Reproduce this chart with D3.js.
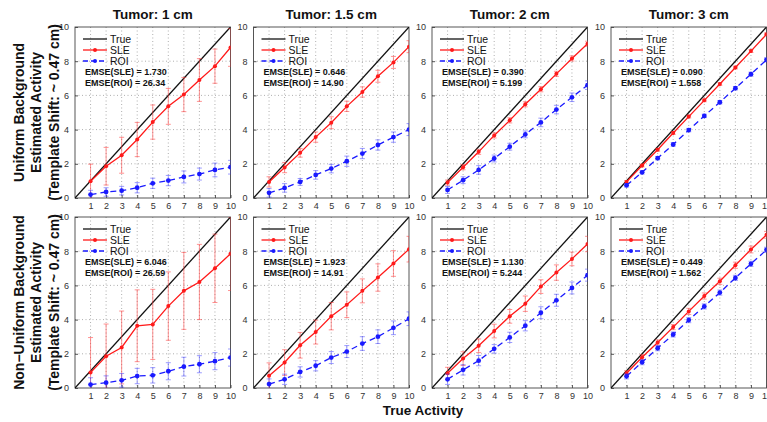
<!DOCTYPE html>
<html><head><meta charset="utf-8">
<script src="https://cdn.jsdelivr.net/npm/d3@7"></script>
<style>
html,body{margin:0;padding:0;background:#fff;}
svg{display:block;font-family:"Liberation Sans",Arial,sans-serif;}
</style></head>
<body>
<svg id="c" width="767" height="422"></svg>
<script>
// ---------- data ----------
const trueActivity = [1,2,3,4,5,6,7,8,9,10];
const xTicks = [1,2,3,4,5,6,7,8,9,10];
const yTicks = [0,2,4,6,8,10];
const tumorSizes = ["Tumor: 1 cm","Tumor: 1.5 cm","Tumor: 2 cm","Tumor: 3 cm"];
const rowLabels = [
  ["Uniform Background","Estimated Activity","(Template Shift: ~ 0.47 cm)"],
  ["Non\u2212Uniform Background","Estimated Activity","(Template Shift: ~ 0.47 cm)"]
];
const seriesNames = ["True","SLE","ROI"];

// Uniform background (row 1)
const sleUniform = [
  [0.98,1.86,2.50,3.42,4.44,5.36,6.05,6.90,7.71,8.80],
  [0.94,1.78,2.64,3.56,4.40,5.36,6.20,7.12,7.93,8.85],
  [0.90,1.80,2.70,3.66,4.54,5.48,6.36,7.26,8.16,9.02],
  [0.94,1.90,2.82,3.80,4.76,5.71,6.67,7.63,8.59,9.57]
];
const sleErrUniform = [
  [1.0,1.1,1.05,1.0,1.0,1.05,1.0,1.25,1.0,1.1],
  [0.3,0.3,0.25,0.3,0.35,0.3,0.3,0.35,0.35,0.35],
  [0.15,0.15,0.15,0.15,0.15,0.15,0.15,0.15,0.15,0.15],
  [0.08,0.08,0.08,0.08,0.08,0.08,0.08,0.08,0.08,0.08]
];
const roiUniform = [
  [0.20,0.35,0.43,0.60,0.86,1.02,1.23,1.40,1.64,1.80],
  [0.30,0.59,0.94,1.35,1.72,2.15,2.60,3.10,3.56,4.00],
  [0.47,1.04,1.64,2.31,3.00,3.72,4.42,5.17,5.89,6.60],
  [0.74,1.50,2.33,3.13,3.97,4.80,5.60,6.42,7.24,8.08]
];
const roiErrUniform = [
  [0.25,0.25,0.25,0.3,0.3,0.3,0.35,0.35,0.4,0.4],
  [0.25,0.25,0.2,0.25,0.25,0.3,0.3,0.3,0.3,0.35],
  [0.2,0.2,0.25,0.2,0.2,0.2,0.25,0.25,0.25,0.25],
  [0.1,0.1,0.1,0.1,0.1,0.1,0.1,0.1,0.12,0.12]
];
const emseSleUniform = ["1.730","0.646","0.390","0.090"];
const emseRoiUniform = ["26.34","14.90","5.199","1.558"];

// Non-uniform background (row 2)
const sleNonUniform = [
  [0.90,1.86,2.37,3.64,3.72,4.79,5.68,6.20,7.00,7.85],
  [0.72,1.49,2.50,3.27,4.20,4.87,5.68,6.46,7.28,8.12],
  [0.86,1.72,2.47,3.33,4.19,4.93,5.93,6.75,7.55,8.42],
  [0.86,1.80,2.66,3.56,4.48,5.38,6.24,7.18,8.10,8.96]
];
const sleErrNonUniform = [
  [2.05,1.88,2.13,2.1,2.05,2.0,2.25,2.2,2.0,2.15],
  [0.75,0.75,0.75,0.7,0.8,0.75,0.7,0.8,0.75,0.75],
  [0.35,0.4,0.4,0.4,0.4,0.45,0.4,0.45,0.4,0.45],
  [0.15,0.15,0.15,0.15,0.18,0.18,0.18,0.18,0.2,0.2]
];
const roiNonUniform = [
  [0.20,0.31,0.45,0.70,0.74,0.98,1.25,1.39,1.57,1.78],
  [0.23,0.51,0.94,1.30,1.78,2.13,2.60,3.00,3.52,4.05],
  [0.51,1.06,1.60,2.29,2.96,3.64,4.40,5.13,5.85,6.60],
  [0.68,1.51,2.33,3.13,3.97,4.77,5.58,6.44,7.26,8.08]
];
const roiErrNonUniform = [
  [0.4,0.4,0.4,0.45,0.45,0.5,0.55,0.5,0.5,0.5],
  [0.3,0.3,0.3,0.3,0.35,0.35,0.4,0.4,0.4,0.4],
  [0.3,0.3,0.3,0.25,0.3,0.3,0.35,0.35,0.35,0.35],
  [0.15,0.15,0.15,0.15,0.15,0.15,0.15,0.15,0.15,0.15]
];
const emseSleNonUniform = ["6.046","1.923","1.130","0.449"];
const emseRoiNonUniform = ["26.59","14.91","5.244","1.562"];

const rows = [
  {sle: sleUniform, sleErr: sleErrUniform, roi: roiUniform, roiErr: roiErrUniform, eS: emseSleUniform, eR: emseRoiUniform},
  {sle: sleNonUniform, sleErr: sleErrNonUniform, roi: roiNonUniform, roiErr: roiErrNonUniform, eS: emseSleNonUniform, eR: emseRoiNonUniform}
];

// ---------- layout ----------
const svg = d3.select("#c");
const panelLeft = [75, 253.5, 432, 611];
const panelW = 155.5;
const rowTop = [27, 217];
const panelH = 171;

const RED = "#ff1a1a", BLUE = "#1a1aff";

rows.forEach((row, ri) => {
  panelLeft.forEach((px, ci) => {
    const py = rowTop[ri];
    const g = svg.append("g").attr("transform", `translate(${px},${py})`);
    const x = d3.scaleLinear().domain([0,10]).range([0,panelW]);
    const y = d3.scaleLinear().domain([0,10]).range([panelH,0]);
    const cid = `clip${ri}${ci}`;
    g.append("clipPath").attr("id", cid).append("rect")
      .attr("x",0).attr("y",0).attr("width",panelW).attr("height",panelH);

    // grid
    g.append("g").selectAll("line").data(xTicks.filter(d=>d<10)).join("line")
      .attr("x1",d=>x(d)).attr("x2",d=>x(d)).attr("y1",0).attr("y2",panelH)
      .attr("stroke","#9a9a9a").attr("stroke-width",0.8).attr("stroke-dasharray","1,2.5");
    g.append("g").selectAll("line").data(yTicks.filter(d=>d>0&&d<10)).join("line")
      .attr("y1",d=>y(d)).attr("y2",d=>y(d)).attr("x1",0).attr("x2",panelW)
      .attr("stroke","#9a9a9a").attr("stroke-width",0.8).attr("stroke-dasharray","1,2.5");

    // axes
    const xa = g.append("g").attr("transform",`translate(0,${panelH})`)
      .call(d3.axisBottom(x).tickValues(xTicks).tickSize(-3).tickPadding(5));
    const ya = g.append("g")
      .call(d3.axisLeft(y).tickValues(yTicks).tickSize(-3).tickPadding(6));
    [xa,ya].forEach(a=>{
      a.select(".domain").remove();
      a.selectAll("line").attr("stroke","#555");
      a.selectAll("text").attr("font-size","9px").attr("fill","#333")
        .attr("font-family","'Liberation Sans',Arial,sans-serif");
    });
    g.append("rect").attr("x",0).attr("y",0).attr("width",panelW).attr("height",panelH)
      .attr("fill","none").attr("stroke","#444").attr("stroke-width",0.9);

    const plot = g.append("g").attr("clip-path",`url(#${cid})`);
    const line = d3.line().x(d=>x(d[0])).y(d=>y(d[1]));

    // True line
    plot.append("path").datum([[0,0],[10,10]]).attr("d",line)
      .attr("stroke","#111").attr("stroke-width",1.3).attr("fill","none");

    const drawSeries = (vals, errs, color, errColor, dashed, r) => {
      const pts = trueActivity.map((t,i)=>[t, vals[i], errs[i]]);
      const eg = plot.append("g").attr("stroke",errColor).attr("stroke-width",1);
      eg.selectAll("line.v").data(pts).join("line").attr("class","v")
        .attr("x1",d=>x(d[0])).attr("x2",d=>x(d[0]))
        .attr("y1",d=>y(d[1]-d[2])).attr("y2",d=>y(d[1]+d[2]));
      eg.selectAll("line.t").data(pts).join("line").attr("class","t")
        .attr("x1",d=>x(d[0])-2.5).attr("x2",d=>x(d[0])+2.5)
        .attr("y1",d=>y(d[1]+d[2])).attr("y2",d=>y(d[1]+d[2]));
      eg.selectAll("line.b").data(pts).join("line").attr("class","b")
        .attr("x1",d=>x(d[0])-2.5).attr("x2",d=>x(d[0])+2.5)
        .attr("y1",d=>y(d[1]-d[2])).attr("y2",d=>y(d[1]-d[2]));
      plot.append("path").datum(pts).attr("d",line).attr("fill","none")
        .attr("stroke",color).attr("stroke-width",1.3)
        .attr("stroke-dasharray", dashed ? "6,4" : null);
      plot.append("g").selectAll("circle").data(pts).join("circle")
        .attr("cx",d=>x(d[0])).attr("cy",d=>y(d[1])).attr("r",r).attr("fill",color);
    };
    drawSeries(row.sle[ci], row.sleErr[ci], RED, "rgba(255,60,60,0.55)", false, 2);
    drawSeries(row.roi[ci], row.roiErr[ci], BLUE, "rgba(60,60,255,0.5)", true, 2.4);

    // legend
    const lg = g.append("g").attr("transform","translate(8,12)");
    const lsty = [
      {c:"#111", dash:null, m:false},
      {c:RED, dash:null, m:true},
      {c:BLUE, dash:"5,3", m:true}
    ];
    seriesNames.forEach((nm,i)=>{
      const yy = i*11;
      lg.append("line").attr("x1",0).attr("x2",24).attr("y1",yy).attr("y2",yy)
        .attr("stroke",lsty[i].c).attr("stroke-width",1.3).attr("stroke-dasharray",lsty[i].dash);
      if (lsty[i].m) lg.append("circle").attr("cx",12).attr("cy",yy).attr("r",2).attr("fill",lsty[i].c);
      lg.append("text").attr("x",27).attr("y",yy).attr("dy","0.35em")
        .attr("font-size","10.5px").attr("fill","#111").text(nm);
    });
    lg.append("text").attr("x",2).attr("y",33).attr("dy","0.35em")
      .attr("font-size","9px").attr("font-weight","bold").attr("fill","#111")
      .text(`EMSE(SLE) = ${row.eS[ci]}`);
    lg.append("text").attr("x",2).attr("y",44).attr("dy","0.35em")
      .attr("font-size","9px").attr("font-weight","bold").attr("fill","#111")
      .text(`EMSE(ROI) = ${row.eR[ci]}`);

    if (ri === 0) {
      svg.append("text").attr("x", px + panelW/2).attr("y", 19)
        .attr("text-anchor","middle").attr("font-size","13.5px").attr("font-weight","bold")
        .attr("fill","#111").text(tumorSizes[ci]);
    }
  });

  // row label
  const cy = rowTop[ri] + panelH/2;
  const xs = [19, 36.5, 54];
  rowLabels[ri].forEach((t,k)=>{
    svg.append("text").attr("transform",`translate(${xs[k]},${cy}) rotate(-90)`)
      .attr("text-anchor","middle").attr("dy","0.35em")
      .attr("font-size","14px").attr("font-weight","bold").attr("fill","#111").text(t);
  });
});

svg.append("text").attr("x",423).attr("y",415).attr("text-anchor","middle")
  .attr("font-size","13.5px").attr("font-weight","bold").attr("fill","#111").text("True Activity");
</script>
</body></html>
